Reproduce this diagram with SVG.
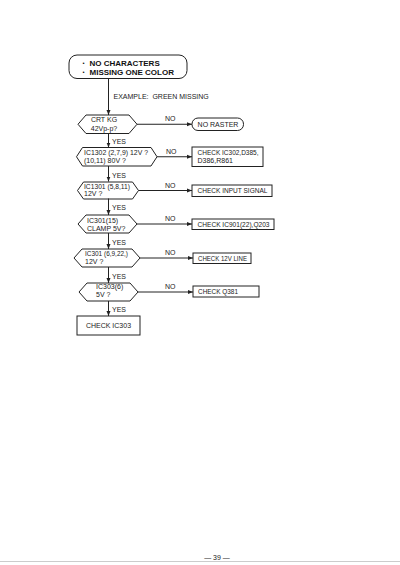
<svg xmlns="http://www.w3.org/2000/svg" width="400" height="565" viewBox="0 0 400 565">
<defs>
<style>
.s{fill:none;stroke:#222;stroke-width:1}
.t{font-family:"Liberation Sans",Arial,sans-serif;font-size:7px;fill:#222}
.b{font-family:"Liberation Sans",Arial,sans-serif;font-size:8px;font-weight:bold;fill:#111}
.d{font-family:"Liberation Sans",Arial,sans-serif;font-size:6px;fill:#111}
.c{text-anchor:middle}
</style>
<marker id="ah" viewBox="0 0 10 10" refX="10" refY="5" markerWidth="5" markerHeight="5" orient="auto" markerUnits="userSpaceOnUse">
<path d="M0,1 L10,5 L0,9 Z" fill="#222"/>
</marker>
</defs>
<rect width="400" height="565" fill="#fff"/>

<g id="start">
<rect class="s" x="69" y="55" width="118" height="23.5" rx="8"/>
<text class="d" x="82.5" y="65">•</text><text class="b" x="89.5" y="65.5">NO CHARACTERS</text>
<text class="d" x="82.5" y="74.2">•</text><text class="b" x="89.5" y="74.7">MISSING ONE COLOR</text>
</g>
<text class="t" x="113.5" y="99" style="white-space:pre">EXAMPLE:  GREEN MISSING</text>

<g id="connectors">
<line class="s" x1="108.5" y1="78.5" x2="108.5" y2="115" marker-end="url(#ah)"/>
<line class="s" x1="108.5" y1="133.5" x2="108.5" y2="147.5" marker-end="url(#ah)"/>
<line class="s" x1="108.5" y1="166" x2="108.5" y2="181.5" marker-end="url(#ah)"/>
<line class="s" x1="108.5" y1="198.5" x2="108.5" y2="215" marker-end="url(#ah)"/>
<line class="s" x1="108.5" y1="233" x2="108.5" y2="249" marker-end="url(#ah)"/>
<line class="s" x1="108.5" y1="267" x2="108.5" y2="283" marker-end="url(#ah)"/>
<line class="s" x1="108.5" y1="301" x2="108.5" y2="316" marker-end="url(#ah)"/>
<line class="s" x1="137" y1="124.25" x2="192" y2="124.25" marker-end="url(#ah)"/>
<line class="s" x1="157" y1="156.75" x2="192" y2="156.75" marker-end="url(#ah)"/>
<line class="s" x1="138.5" y1="190.5" x2="192" y2="190.5" marker-end="url(#ah)"/>
<line class="s" x1="137" y1="224" x2="192" y2="224" marker-end="url(#ah)"/>
<line class="s" x1="140" y1="258" x2="193" y2="258" marker-end="url(#ah)"/>
<line class="s" x1="138" y1="292" x2="193" y2="292" marker-end="url(#ah)"/>
<text class="t" x="112" y="144">YES</text>
<text class="t" x="112" y="178">YES</text>
<text class="t" x="112" y="210">YES</text>
<text class="t" x="112" y="244.5">YES</text>
<text class="t" x="112" y="278.5">YES</text>
<text class="t" x="112" y="311.5">YES</text>
<text class="t" x="165" y="121">NO</text>
<text class="t" x="166" y="153.5">NO</text>
<text class="t" x="165" y="187.5">NO</text>
<text class="t" x="165" y="221">NO</text>
<text class="t" x="165" y="255">NO</text>
<text class="t" x="165" y="289">NO</text>
</g>

<g id="q1">
<path class="s" d="M78,124.25 L86,115 L129,115 L137,124.25 L129,133.5 L86,133.5 Z"/>
<text class="t c" x="104" y="121.5">CRT KG</text>
<text class="t c" x="104" y="130.5">42Vp-p?</text>
</g>
<g id="q2">
<path class="s" d="M76.5,156.75 L82.5,147.5 L151,147.5 L157,156.75 L151,166 L82.5,166 Z"/>
<text class="t" x="84" y="155.2" textLength="64" lengthAdjust="spacingAndGlyphs">IC1302 (2,7,9) 12V ?</text>
<text class="t" x="84" y="163.2">(10,11) 80V ?</text>
</g>
<g id="q3">
<path class="s" d="M77.5,190.5 L83.5,182 L132.5,182 L138.5,190.5 L132.5,199 L83.5,199 Z"/>
<text class="t" x="84" y="188.7" textLength="46" lengthAdjust="spacingAndGlyphs">IC1301 (5,8,11)</text>
<text class="t" x="84" y="196.3">12V ?</text>
</g>
<g id="q4">
<path class="s" d="M78,224 L86,215 L129,215 L137,224 L129,233 L86,233 Z"/>
<text class="t" x="87" y="222.5">IC301(15)</text>
<text class="t" x="87" y="230.8">CLAMP 5V?</text>
</g>
<g id="q5">
<path class="s" d="M74,258 L82,249 L132,249 L140,258 L132,267 L82,267 Z"/>
<text class="t" x="85" y="255.8" textLength="43" lengthAdjust="spacingAndGlyphs">IC301 (6,9,22,)</text>
<text class="t" x="85" y="264.2">12V ?</text>
</g>
<g id="q6">
<path class="s" d="M79,292 L87,283 L130,283 L138,292 L130,301 L87,301 Z"/>
<text class="t" x="96" y="289">IC303(6)</text>
<text class="t" x="96" y="297">5V ?</text>
</g>

<g id="r1">
<rect class="s" x="192" y="118" width="51.5" height="12.5" rx="6"/>
<text class="t c" x="218" y="126.7">NO RASTER</text>
</g>
<g id="r2">
<rect class="s" x="192" y="147" width="71" height="19.5"/>
<text class="t" x="197.5" y="155.2" textLength="61" lengthAdjust="spacingAndGlyphs">CHECK IC302,D385,</text>
<text class="t" x="197.5" y="163.4">D386,R861</text>
</g>
<g id="r3">
<rect class="s" x="192" y="185" width="80" height="11.5"/>
<text class="t" x="197.5" y="193.4" textLength="70" lengthAdjust="spacingAndGlyphs">CHECK INPUT SIGNAL</text>
</g>
<g id="r4">
<rect class="s" x="192" y="219" width="82" height="10.5"/>
<text class="t" x="197.5" y="226.7" textLength="72" lengthAdjust="spacingAndGlyphs">CHECK IC901(22),Q203</text>
</g>
<g id="r5">
<rect class="s" x="193" y="253" width="58" height="10.5"/>
<text class="t" x="198" y="260.7" textLength="49" lengthAdjust="spacingAndGlyphs">CHECK 12V LINE</text>
</g>
<g id="r6">
<rect class="s" x="193" y="286" width="66" height="11"/>
<text class="t" x="198" y="294" textLength="40" lengthAdjust="spacingAndGlyphs">CHECK Q381</text>
</g>
<g id="r7">
<rect class="s" x="77" y="316" width="63" height="19"/>
<text class="t c" x="108.5" y="327.5">CHECK IC303</text>
</g>

<text class="t c" x="217" y="559.5">— 39 —</text>
<line x1="0" y1="561.5" x2="400" y2="561.5" stroke="#ccc" stroke-width="1"/>
</svg>
